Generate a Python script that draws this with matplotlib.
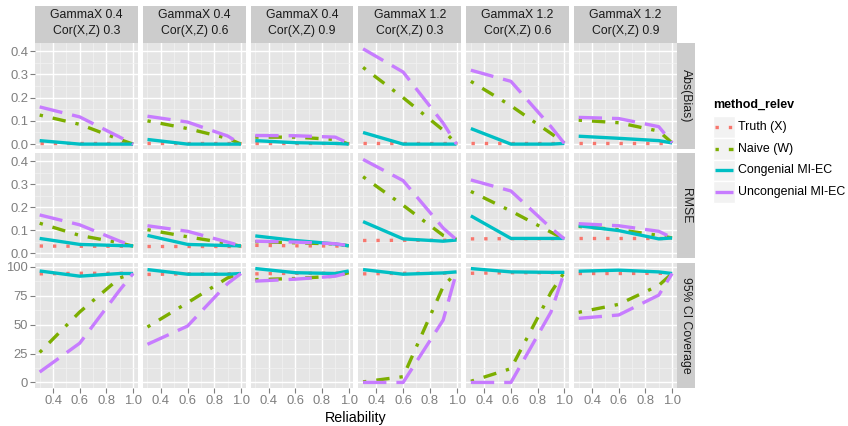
import numpy as np
import matplotlib
matplotlib.use("Agg")
import matplotlib.pyplot as plt
from matplotlib.patches import Rectangle
from matplotlib.lines import Line2D

plt.rcParams['font.family'] = ['Liberation Sans', 'DejaVu Sans']

# reliability values where each series is evaluated
reliability = [0.3, 0.6, 0.9, 1.0]

gamma_x = ["0.4", "0.4", "0.4", "1.2", "1.2", "1.2"]
cor_xz = ["0.3", "0.6", "0.9", "0.3", "0.6", "0.9"]
metrics = ["Abs(Bias)", "RMSE", "95% CI Coverage"]
methods = ["Truth (X)", "Naive (W)", "Congenial MI-EC", "Uncongenial MI-EC"]

# Abs(Bias), one row per panel
bias_truth = [[0.003, 0.003, 0.003, 0.003], [0.003, 0.003, 0.003, 0.003],
              [0.003, 0.003, 0.003, 0.003], [0.004, 0.004, 0.004, 0.004],
              [0.004, 0.004, 0.004, 0.004], [0.006, 0.006, 0.006, 0.006]]
bias_naive = [[0.125, 0.085, 0.02, 0.0], [0.10, 0.067, 0.025, 0.0],
              [0.03, 0.03, 0.02, 0.0], [0.33, 0.20, 0.06, 0.0],
              [0.27, 0.165, 0.046, 0.005], [0.103, 0.092, 0.056, 0.005]]
bias_cong = [[0.015, 0.0, 0.0, 0.0], [0.02, 0.0, 0.0, 0.0],
             [0.015, 0.006, 0.003, 0.0], [0.05, 0.0, 0.0, 0.0],
             [0.067, 0.0, 0.0, 0.003], [0.034, 0.025, 0.015, 0.005]]
bias_uncong = [[0.16, 0.117, 0.03, 0.0], [0.12, 0.095, 0.035, 0.0],
               [0.037, 0.036, 0.03, 0.003], [0.41, 0.31, 0.09, 0.0],
               [0.318, 0.27, 0.075, 0.003], [0.115, 0.11, 0.075, 0.006]]

# RMSE
rmse_truth = [[0.031, 0.03, 0.03, 0.03], [0.03, 0.03, 0.03, 0.03],
              [0.034, 0.032, 0.031, 0.03], [0.055, 0.056, 0.056, 0.057],
              [0.062, 0.063, 0.063, 0.064], [0.067, 0.067, 0.067, 0.067]]
rmse_naive = [[0.13, 0.077, 0.045, 0.03], [0.102, 0.071, 0.043, 0.03],
              [0.05, 0.045, 0.04, 0.032], [0.332, 0.208, 0.077, 0.06],
              [0.268, 0.183, 0.091, 0.062], [0.116, 0.102, 0.077, 0.066]]
rmse_cong = [[0.064, 0.038, 0.033, 0.032], [0.077, 0.038, 0.033, 0.032],
             [0.075, 0.055, 0.04, 0.032], [0.137, 0.062, 0.052, 0.057],
             [0.162, 0.064, 0.064, 0.064], [0.119, 0.098, 0.062, 0.066]]
rmse_uncong = [[0.166, 0.123, 0.052, 0.031], [0.119, 0.095, 0.048, 0.032],
               [0.052, 0.048, 0.041, 0.033], [0.407, 0.315, 0.109, 0.058],
               [0.318, 0.27, 0.109, 0.062], [0.128, 0.119, 0.095, 0.067]]

# 95% CI coverage
cov_truth = [[94, 94.5, 94.5, 94.5], [93.5, 94, 94, 94.5],
             [94, 94.5, 94.5, 95], [94, 94.5, 94.5, 95.5],
             [94.5, 95, 95, 95.3], [94.3, 94.3, 94.5, 94.3]]
cov_naive = [[26, 61, 90.5, 94.3], [48, 69, 90.5, 94.3],
             [89, 90, 92, 95], [0.5, 5, 83, 95.5],
             [1, 12, 78, 95.3], [60.7, 67.6, 84, 94.3]]
cov_cong = [[96.5, 92, 94.3, 94.3], [97.7, 93.7, 93.7, 94.3],
            [98.6, 95, 94.3, 96.5], [97.7, 93.7, 94.8, 95.7],
            [98.6, 95.7, 95.3, 95.3], [96.3, 97.2, 95.7, 94.3]]
cov_uncong = [[9, 34, 80, 94.3], [33, 48.8, 85.6, 94.3],
              [87.7, 89.4, 92, 95], [0, 0, 54, 95.5],
              [0, 0, 61, 95.3], [55.5, 58.4, 75.6, 94.3]]

data = [[bias_truth, bias_naive, bias_cong, bias_uncong],
        [rmse_truth, rmse_naive, rmse_cong, rmse_uncong],
        [cov_truth, cov_naive, cov_cong, cov_uncong]]

colors = ["#F8766D", "#7CAE00", "#00BFC4", "#C77CFF"]
styles = [(0, (1, 3)), (0, (1, 3, 4, 3)), "-", (0, (7, 3))]
LW = 2.4

W, H = 848, 426
fig = plt.figure(figsize=(W / 100, H / 100), dpi=100)


def box(x0, y0, x1, y1):
    return [x0 / W, 1 - y1 / H, (x1 - x0) / W, (y1 - y0) / H]


col_w = 102.8
col_left = [35 + i * 107.8 for i in range(6)]
rows = [(43, 149), (153, 258), (263, 388)]
GREY = "#7F7F7F"

for r, (y0, y1) in enumerate(rows):
    for c in range(6):
        ax = fig.add_axes(box(col_left[c], y0, col_left[c] + col_w, y1))
        ax.set_facecolor("#E5E5E5")
        for s in ax.spines.values():
            s.set_visible(False)
        ax.set_xlim(0.265, 1.035)
        ax.set_xticks([0.4, 0.6, 0.8, 1.0])
        ax.set_xticks([0.3, 0.5, 0.7, 0.9], minor=True)
        if r < 2:
            ax.set_ylim(-0.021, 0.435)
            ax.set_yticks([0.0, 0.1, 0.2, 0.3, 0.4])
            ax.set_yticks([0.05, 0.15, 0.25, 0.35], minor=True)
            ax.set_yticklabels(["0.0", "0.1", "0.2", "0.3", "0.4"])
        else:
            ax.set_ylim(-4.8, 103.4)
            ax.set_yticks([0, 25, 50, 75, 100])
            ax.set_yticks([12.5, 37.5, 62.5, 87.5], minor=True)
        ax.grid(which="major", color="white", lw=1.0)
        ax.grid(which="minor", color="#F2F2F2", lw=0.5)
        ax.set_axisbelow(True)
        ax.tick_params(which="minor", length=0)
        ax.tick_params(which="major", length=3.5, width=0.8, color=GREY,
                       labelcolor=GREY, labelsize=9.4, pad=1.5)
        if c > 0:
            ax.tick_params(axis="y", which="major", length=0, labelleft=False)
        if r < 2:
            ax.tick_params(axis="x", which="major", length=0, labelbottom=False)
        else:
            ax.set_xticklabels(["0.4", "0.6", "0.8", "1.0"])

        for m in range(4):
            ax.plot(reliability, data[r][m][c], color=colors[m], lw=LW,
                    linestyle=styles[m], solid_capstyle="butt",
                    dash_capstyle="butt", solid_joinstyle="round")

        if r == 0:
            sax = fig.add_axes(box(col_left[c], 6, col_left[c] + col_w, 43))
            sax.set_facecolor("#CCCCCC")
            sax.set_xticks([])
            sax.set_yticks([])
            for s in sax.spines.values():
                s.set_visible(False)
            sax.text(0.5, 0.54, f"GammaX {gamma_x[c]}\nCor(X,Z) {cor_xz[c]}",
                     ha="center", va="center", fontsize=8.8, color="#1A1A1A",
                     linespacing=1.45, transform=sax.transAxes)

    rax = fig.add_axes(box(677, y0, 695, y1))
    rax.set_facecolor("#CCCCCC")
    rax.set_xticks([])
    rax.set_yticks([])
    for s in rax.spines.values():
        s.set_visible(False)
    rax.text(0.5, 0.5, metrics[r], rotation=-90, ha="center", va="center",
             fontsize=8.8, color="#1A1A1A", transform=rax.transAxes)

fig.text(356 / W, 1 - 418 / H, "Reliability", ha="center", va="center",
         fontsize=10.3, color="black")

# legend
lax = fig.add_axes([0, 0, 1, 1])
lax.set_xlim(0, W)
lax.set_ylim(H, 0)
lax.axis("off")
lax.text(713, 105, "method_relev", fontsize=9.0, fontweight="bold",
         ha="left", va="center")
key_y = [127, 148.7, 170.4, 192.1]
for m in range(4):
    yc = key_y[m]
    lax.add_patch(Rectangle((713, yc - 10.85), 21.7, 21.7, facecolor="#F2F2F2",
                            edgecolor="white", lw=1.0))
    lax.add_line(Line2D([715, 733], [yc, yc], color=colors[m], lw=LW,
                        linestyle=styles[m], solid_capstyle="butt",
                        dash_capstyle="butt"))
    lax.text(737.5, yc, methods[m], fontsize=8.9, ha="left", va="center",
             color="black")

fig.savefig("out.png", dpi=100)
